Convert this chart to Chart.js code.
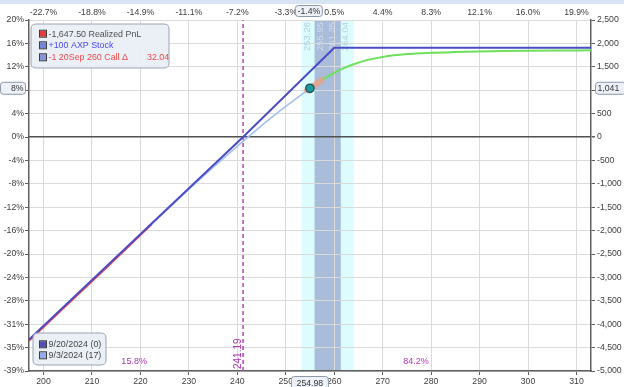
<!DOCTYPE html>
<html><head><meta charset="utf-8">
<script src="https://cdn.jsdelivr.net/npm/chart.js@4.4.1/dist/chart.umd.min.js"></script>
<style>html,body{margin:0;padding:0;background:#fff;}#wrap{width:624px;height:387px;position:relative;}</style>
</head><body><div id="wrap"><canvas id="c" width="624" height="387"></canvas></div>
<script>
// ---- data ----
const xTicks = [200,210,220,230,240,250,260,270,280,290,300,310];
const topLabels = ["-22.7%","-18.8%","-14.9%","-11.1%","-7.2%","-3.3%","0.5%","4.4%","8.3%","12.1%","16.0%","19.9%"];
const yTicks = [-5000,-4500,-4000,-3500,-3000,-2500,-2000,-1500,-1000,-500,0,500,1000,1500,2000,2500];
const leftLabels = ["-39%","-35%","-31%","-28%","-24%","-20%","-16%","-12%","-8%","-4%","0%","4%","8%","12%","16%","20%"];
const rightLabels = ["-5,000","-4,500","-4,000","-3,500","-3,000","-2,500","-2,000","-1,500","-1,000","-500","0","500","1,000","1,500","2,000","2,500"];

// expiration (9/20/2024)
const expPrice = [197, 241.19, 260, 313];
const expPnl   = [-4330, 0, 1905, 1905];
// T+0 (9/3/2024) segments
const redPrice = [197, 205, 213, 222.3];
const redPnl   = [-4352, -3570, -2788, -1866];
const t0Price  = [222.3, 228, 232, 235, 238, 240, 242, 244, 246, 248, 250, 252, 254.98, 256.2, 257.4];
const t0Pnl    = [-1866, -1312, -927, -652, -377, -197, -17, 158, 328, 493, 653, 808, 1041, 1130, 1215];
const greenPrice = [257.4, 260, 262, 264, 266.5, 270, 275, 280, 285, 290, 295, 300, 306, 313];
const greenPnl   = [1215, 1371, 1471, 1555, 1637, 1711, 1771, 1799, 1815, 1827, 1835, 1841, 1847, 1852];
const salmonPrice = [254.4, 257.3];
const salmonPnl   = [1000, 1208];
const currentPrice = 254.98;
const currentPnl = 1041;
const currentPriceLabel = "254.98";
const currentPctLabel = "-1.4%";
const currentLeftLabel = "8%";
const currentRightLabel = "1,041";
const breakeven = 241.19;
const breakevenLabel = "241.19";
const bandOuter = [253.26, 264.04];
const bandInner = [255.95, 261.35];
const bandLabels = ["253.26", "255.95", "261.35", "264.04"];
const probLabels = ["15.8%", "84.2%"];
const probPrice = [218.7, 276.9];
const probPnl = [-4788, -4788];
const legendTopText = ["-1,647.50 Realized PnL", "+100 AXP Stock", "-1 20Sep 260 Call \u0394"];
const legendTopExtra = "32.04";
const legendBottomText = ["9/20/2024 (0)", "9/3/2024 (17)"];

const FONT = "'Liberation Sans', Arial, sans-serif";
const pts = (xs, ys) => xs.map((x, i) => ({x: x, y: ys[i]}));

function rrect(ctx, x, y, w, h, r) {
  ctx.beginPath();
  ctx.moveTo(x + r, y);
  ctx.lineTo(x + w - r, y); ctx.quadraticCurveTo(x + w, y, x + w, y + r);
  ctx.lineTo(x + w, y + h - r); ctx.quadraticCurveTo(x + w, y + h, x + w - r, y + h);
  ctx.lineTo(x + r, y + h); ctx.quadraticCurveTo(x, y + h, x, y + h - r);
  ctx.lineTo(x, y + r); ctx.quadraticCurveTo(x, y, x + r, y);
  ctx.closePath();
}
function vtext(ctx, t, x, y, color, align, size) {
  ctx.save(); ctx.translate(x, y); ctx.rotate(-Math.PI / 2);
  ctx.font = size + "px " + FONT; ctx.fillStyle = color;
  ctx.textAlign = align; ctx.textBaseline = 'middle';
  ctx.fillText(t, 0, 0); ctx.restore();
}

const bandsPlugin = {
  id: 'bands',
  beforeDraw(chart) {
    const ctx = chart.ctx, a = chart.chartArea, sx = chart.scales.x;
    ctx.save();
    ctx.fillStyle = '#d8e4f2';
    ctx.fillRect(0, 0, 624, 4);
    ctx.fillStyle = '#dcfcfd';
    let x0 = sx.getPixelForValue(bandOuter[0]), x1 = sx.getPixelForValue(bandOuter[1]);
    ctx.fillRect(x0, a.top, x1 - x0, a.bottom - a.top);
    ctx.fillStyle = '#a9bcd9';
    x0 = sx.getPixelForValue(bandInner[0]); x1 = sx.getPixelForValue(bandInner[1]);
    ctx.fillRect(x0, a.top, x1 - x0, a.bottom - a.top);
    ctx.restore();
  },
  beforeDatasetsDraw(chart) {
    const a = chart.chartArea, sx = chart.scales.x;
    const edges = [bandOuter[0], bandInner[0], bandInner[1], bandOuter[1]];
    const offs = [5.5, 5.5, -8, -8];
    const cols = ['#b6d2de', '#cfdaea', '#cfdaea', '#b6d2de'];
    edges.forEach((e, i) => {
      vtext(chart.ctx, bandLabels[i], sx.getPixelForValue(e) + offs[i], a.top + 2, cols[i], 'right', 9.5);
    });
  },
  afterDraw(chart) {
    const ctx = chart.ctx, a = chart.chartArea, sx = chart.scales.x, sy = chart.scales.y;
    ctx.save();
    // breakeven label
    vtext(ctx, breakevenLabel, sx.getPixelForValue(breakeven) - 5, a.bottom - 2, '#b034b4', 'left', 10);
    // probability labels
    ctx.font = "9px " + FONT; ctx.fillStyle = '#b034b4'; ctx.textAlign = 'center'; ctx.textBaseline = 'middle';
    probLabels.forEach((t, i) => ctx.fillText(t, sx.getPixelForValue(probPrice[i]), sy.getPixelForValue(probPnl[i])));

    // top-left legend
    ctx.globalAlpha = 0.93;
    rrect(ctx, 31, 24, 138, 44, 5); ctx.fillStyle = '#e9eef5'; ctx.fill();
    ctx.globalAlpha = 1; ctx.strokeStyle = '#9aa4b0'; ctx.lineWidth = 1; ctx.stroke();
    const sqTop = ['#e83a3a', '#7486dc', '#8696d8'];
    const txTop = ['#505050', '#4a4af2', '#f04a4a'];
    const rowsTop = [33.7, 45.3, 57.3];
    ctx.font = "8.9px " + FONT; ctx.textAlign = 'left'; ctx.textBaseline = 'middle';
    rowsTop.forEach((ry, i) => {
      ctx.fillStyle = sqTop[i]; ctx.fillRect(40, ry - 3, 6, 6);
      ctx.strokeStyle = '#3c3c3c'; ctx.lineWidth = 1; ctx.strokeRect(39.5, ry - 3.5, 7, 7);
      ctx.fillStyle = txTop[i]; ctx.fillText(legendTopText[i], 48.5, ry + 0.5);
    });
    ctx.fillStyle = txTop[2]; ctx.fillText(legendTopExtra, 147, rowsTop[2] + 0.5);

    // bottom-left legend
    ctx.globalAlpha = 0.93;
    rrect(ctx, 33, 333, 73, 32, 5); ctx.fillStyle = '#e9eef5'; ctx.fill();
    ctx.globalAlpha = 1; ctx.strokeStyle = '#9aa4b0'; ctx.stroke();
    const sqBot = ['#5050b8', '#92aeee'];
    [344.3, 355.3].forEach((ry, i) => {
      ctx.fillStyle = sqBot[i]; ctx.fillRect(40, ry - 3, 6, 6);
      ctx.strokeStyle = '#3c3c3c'; ctx.strokeRect(39.5, ry - 3.5, 7, 7);
      ctx.fillStyle = '#454545'; ctx.fillText(legendBottomText[i], 48.5, ry + 0.5);
    });

    // current value boxes
    const cx = sx.getPixelForValue(currentPrice), cy = sy.getPixelForValue(currentPnl);
    function box(x, y, w, h, t, tx, align) {
      rrect(ctx, x, y, w, h, 3); ctx.fillStyle = '#eef2f8'; ctx.fill();
      ctx.strokeStyle = '#8c98a8'; ctx.lineWidth = 1; ctx.stroke();
      ctx.fillStyle = '#333'; ctx.textAlign = align; ctx.textBaseline = 'middle';
      ctx.font = "8.7px " + FONT; ctx.fillText(t, tx, y + h / 2 + 0.5);
    }
    box(cx - 14.5, 5.5, 27, 11, currentPctLabel, cx - 1, 'center');
    box(cx - 18.5, 376.5, 37, 14, currentPriceLabel, cx, 'center');
    box(0.5, cy - 6, 25, 12, currentLeftLabel, 23.5, 'right');
    box(595.5, cy - 6, 30, 12, currentRightLabel, 597.5, 'left');
    ctx.restore();
  }
};

const tickFont = {family: FONT, size: 8.7};
const chart = new Chart(document.getElementById('c'), {
  type: 'scatter',
  data: {
    datasets: [
      {label: 'current', data: [{x: currentPrice, y: currentPnl}], pointRadius: 4.2, pointBackgroundColor: '#1a9a9a', pointBorderColor: '#1d4f55', pointBorderWidth: 1.3, order: 0},
      {label: 'exp', data: pts(expPrice, expPnl), showLine: true, borderColor: '#4b4bc6', borderWidth: 2, pointRadius: 0, order: 1},
      {label: 'salmon', data: pts(salmonPrice, salmonPnl), showLine: true, borderColor: 'rgba(238,160,130,0.8)', borderWidth: 6, pointRadius: 0, borderCapStyle: 'round', order: 2},
      {label: 'green', data: pts(greenPrice, greenPnl), showLine: true, borderColor: '#6ee05a', borderWidth: 2, pointRadius: 0, cubicInterpolationMode: 'monotone', order: 3},
      {label: 't0', data: pts(t0Price, t0Pnl), showLine: true, borderColor: '#a2c0f4', borderWidth: 1.6, pointRadius: 0, cubicInterpolationMode: 'monotone', order: 4},
      {label: 'red', data: pts(redPrice, redPnl), showLine: true, borderColor: '#f04040', borderWidth: 2, pointRadius: 0, order: 5},
      {label: 'be', data: [{x: breakeven, y: -5000}, {x: breakeven, y: 2500}], showLine: true, borderColor: '#c04cc4', borderWidth: 1.6, borderDash: [4, 3], pointRadius: 0, order: 6}
    ]
  },
  options: {
    responsive: false, animation: false, devicePixelRatio: 1,
    layout: {padding: 0},
    plugins: {legend: {display: false}, tooltip: {enabled: false}},
    scales: {
      x: {
        type: 'linear', position: 'bottom', min: 197, max: 313,
        afterBuildTicks: s => { s.ticks = xTicks.map(v => ({value: v})); },
        afterFit: s => { s.height = 16; },
        grid: {color: '#dadada', lineWidth: 1, tickLength: 4, tickColor: '#606060'},
        border: {color: '#606060', width: 1.5},
        ticks: {color: '#404040', font: tickFont, padding: 1, maxRotation: 0, autoSkip: false, callback: v => String(v)}
      },
      xT: {
        type: 'linear', position: 'top', min: 197, max: 313,
        afterBuildTicks: s => { s.ticks = xTicks.map(v => ({value: v})); },
        afterFit: s => { s.height = 20; },
        grid: {drawOnChartArea: false, drawTicks: false},
        border: {display: false},
        ticks: {color: '#404040', font: tickFont, padding: 2.5, maxRotation: 0, autoSkip: false, callback: (v, i) => topLabels[i]}
      },
      y: {
        type: 'linear', position: 'right', min: -5000, max: 2500,
        afterBuildTicks: s => { s.ticks = yTicks.map(v => ({value: v})); },
        afterFit: s => { s.width = 33; },
        grid: {
          color: c => (c.tick && c.tick.value === 0) ? '#505050' : '#dadada',
          lineWidth: c => (c.tick && c.tick.value === 0) ? 1.5 : 1,
          tickLength: 4, tickColor: '#606060'
        },
        border: {color: '#606060', width: 1.5},
        ticks: {color: '#404040', font: tickFont, padding: 2, autoSkip: false, callback: (v, i) => rightLabels[i]}
      },
      yL: {
        type: 'linear', position: 'left', min: -5000, max: 2500,
        afterBuildTicks: s => { s.ticks = yTicks.map(v => ({value: v})); },
        afterFit: s => { s.width = 29; },
        grid: {drawOnChartArea: false, tickLength: 4, tickColor: '#606060'},
        border: {color: '#606060', width: 1.5},
        ticks: {color: '#404040', font: tickFont, padding: 1, autoSkip: false, callback: (v, i) => leftLabels[i]}
      }
    }
  },
  plugins: [bandsPlugin]
});
</script></body></html>
